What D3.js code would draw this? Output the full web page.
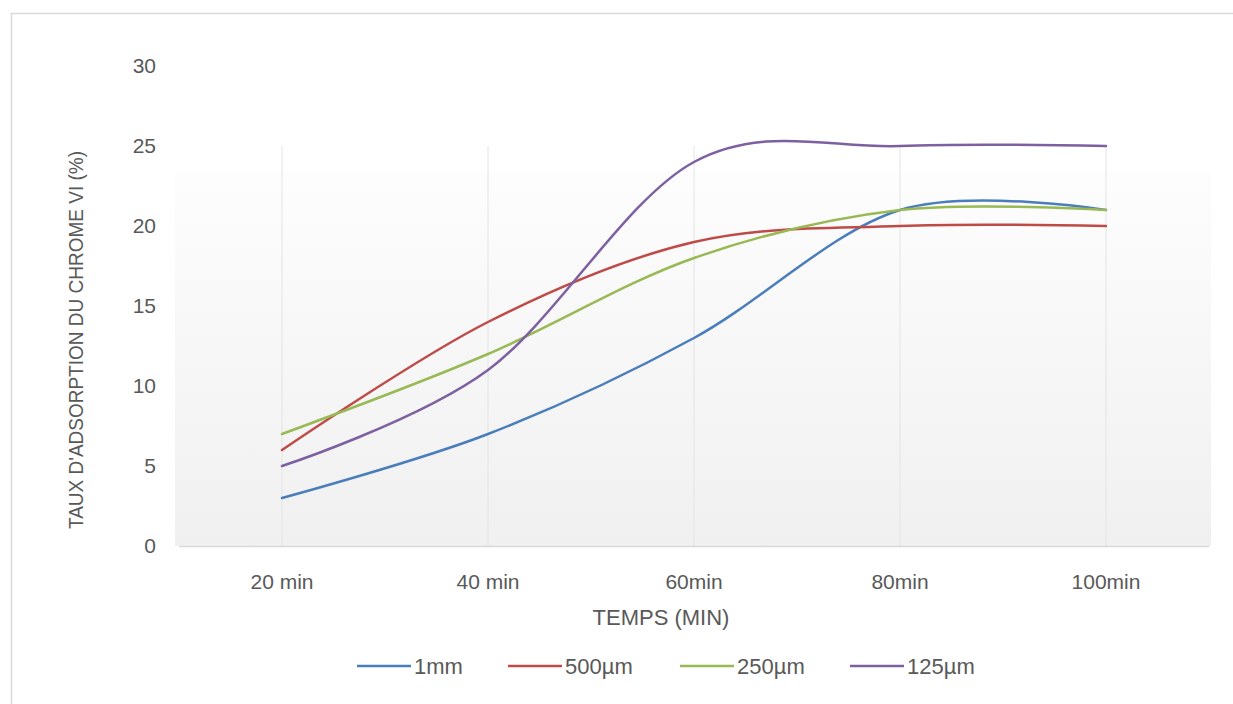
<!DOCTYPE html>
<html>
<head>
<meta charset="utf-8">
<script src="https://cdn.jsdelivr.net/npm/d3@7"></script>
<style>
  html, body { margin: 0; padding: 0; background: #fff; }
  svg { display: block; font-family: "Liberation Sans", Arial, sans-serif; }
</style>
</head>
<body>
<svg id="chart" width="1233" height="704"></svg>
<script>
// Sampling times (x categories)
const categories = ["20 min", "40 min", "60min", "80min", "100min"];

// Chromium VI uptake (%) for each particle size
const seriesNames = ["1mm", "500µm", "250µm", "125µm"];
const values1mm   = [3, 7, 13, 21, 21];
const values500um = [6, 14, 19, 20, 20];
const values250um = [7, 12, 18, 21, 21];
const values125um = [5, 11, 24, 25, 25];
const seriesColors = ["#4a7ebb", "#be4b48", "#98b954", "#7d60a0"];

const yTicks = [0, 5, 10, 15, 20, 25, 30];
const yTitle = "TAUX D'ADSORPTION DU CHROME VI (%)";
const xTitle = "TEMPS (MIN)";

const series = [values1mm, values500um, values250um, values125um].map((v, i) => ({
  name: seriesNames[i], values: v, color: seriesColors[i]
}));

const svg = d3.select("#chart");
const plot = { left: 179, right: 1209, top: 66, bottom: 546 };
const textColor = "#595959";
const fontSize = 21;

// Outer frame
svg.append("rect")
  .attr("x", 11.5).attr("y", 13.5)
  .attr("width", 1240).attr("height", 720)
  .attr("fill", "#fff").attr("stroke", "#d9d9d9").attr("stroke-width", 1.5);

const x = d3.scaleBand().domain(categories).range([plot.left, plot.right]).padding(0);
const y = d3.scaleLinear().domain([0, 30]).range([plot.bottom, plot.top]);

// Soft plot background shading
const defs = svg.append("defs");
const grad = defs.append("linearGradient").attr("id", "bg").attr("x1", 0).attr("y1", 0).attr("x2", 0).attr("y2", 1);
grad.append("stop").attr("offset", "0%").attr("stop-color", "#fdfdfd");
grad.append("stop").attr("offset", "100%").attr("stop-color", "#f0f0f0");
svg.append("rect")
  .attr("x", plot.left - 4).attr("y", 172)
  .attr("width", plot.right - plot.left + 6).attr("height", plot.bottom - 172)
  .attr("fill", "url(#bg)");

// Vertical gridlines at category centres
svg.append("g").selectAll("line").data(categories).join("line")
  .attr("x1", d => x(d) + x.bandwidth() / 2).attr("x2", d => x(d) + x.bandwidth() / 2)
  .attr("y1", plot.top + 80).attr("y2", plot.bottom)
  .attr("stroke", "#e4e4e4").attr("stroke-width", 1);

// X axis baseline
svg.append("line")
  .attr("x1", plot.left).attr("x2", plot.right)
  .attr("y1", plot.bottom + 0.5).attr("y2", plot.bottom + 0.5)
  .attr("stroke", "#d9d9d9").attr("stroke-width", 1.5);

// Y axis labels
const yAxis = d3.axisLeft(y).tickValues(yTicks).tickSize(0).tickPadding(0);
const gy = svg.append("g").attr("transform", `translate(156,0)`).call(yAxis);
gy.select(".domain").remove();
gy.selectAll("text").attr("fill", textColor).attr("font-size", fontSize).attr("font-family", "Liberation Sans, Arial, sans-serif");

// X axis labels
const xAxis = d3.axisBottom(x).tickSize(0).tickPadding(0);
const gx = svg.append("g").attr("transform", `translate(0,${plot.bottom + 28})`).call(xAxis);
gx.select(".domain").remove();
gx.selectAll("text").attr("fill", textColor).attr("font-size", fontSize).attr("font-family", "Liberation Sans, Arial, sans-serif");

// Axis titles
svg.append("text")
  .attr("transform", "translate(76,340) rotate(-90)")
  .attr("text-anchor", "middle").attr("dominant-baseline", "central")
  .attr("fill", textColor).attr("font-size", 19.5)
  .attr("textLength", 378).attr("lengthAdjust", "spacingAndGlyphs")
  .text(yTitle);
svg.append("text")
  .attr("x", 661).attr("y", 617)
  .attr("text-anchor", "middle").attr("dominant-baseline", "central")
  .attr("fill", textColor).attr("font-size", fontSize + 1)
  .text(xTitle);

// Smoothed series lines
const line = d3.line()
  .x((d, i) => x(categories[i]) + x.bandwidth() / 2)
  .y(d => y(d))
  .curve(d3.curveCardinal.tension(0));

svg.append("g").selectAll("path").data(series).join("path")
  .attr("d", d => line(d.values))
  .attr("fill", "none")
  .attr("stroke", d => d.color)
  .attr("stroke-width", 2.5)
  .attr("stroke-linecap", "round");

// Legend
const legendX = [357, 508, 680, 850];
const legend = svg.append("g").selectAll("g").data(series).join("g")
  .attr("transform", (d, i) => `translate(${legendX[i]},666)`);
legend.append("line")
  .attr("x1", 0).attr("x2", 54).attr("y1", 0).attr("y2", 0)
  .attr("stroke", d => d.color).attr("stroke-width", 2.5);
legend.append("text")
  .attr("x", 57).attr("y", 0).attr("dominant-baseline", "central")
  .attr("fill", textColor).attr("font-size", fontSize + 1)
  .text(d => d.name);
</script>
</body>
</html>
